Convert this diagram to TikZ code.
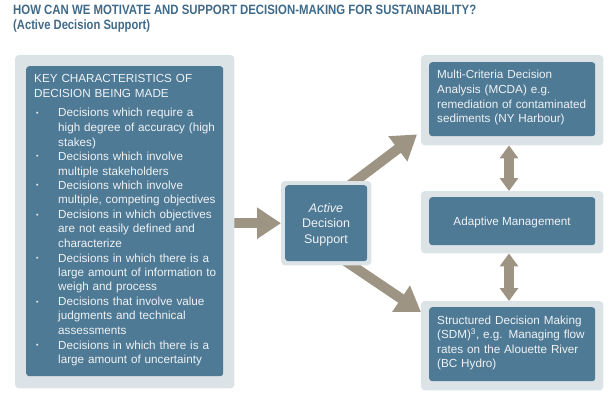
\documentclass[tikz,border=0pt]{standalone}
\usepackage{fontspec}
\usepackage{graphicx}
\setmainfont{Liberation Sans}
\usetikzlibrary{arrows.meta,calc}
\definecolor{outerc}{HTML}{DCE3E6}
\definecolor{innerc}{HTML}{4F7A95}
\definecolor{arrowc}{HTML}{9E9484}
\definecolor{titlec}{HTML}{3F6A8A}
\definecolor{textc}{HTML}{EEF2F4}
\newcommand\itemmark{\makebox[24pt][l]{\hspace{2pt}\raisebox{1.5pt}{\fontsize{7pt}{7pt}\selectfont •}}}
\newcommand\itemind{\hspace*{24pt}}
\begin{document}
\begin{tikzpicture}[x=1pt,y=-1pt,
  outerbox/.style={fill=outerc, rounded corners=4pt, inner sep=0pt, anchor=north west},
  innerbox/.style={fill=innerc, rounded corners=3pt, inner sep=0pt, anchor=north west},
  bigarrow/.style={draw=arrowc, line width=10pt, -{Triangle[width=30pt,length=24pt]}},
  duoarrow/.style={draw=arrowc, line width=10pt, {Triangle[width=18pt,length=13pt]}-{Triangle[width=18pt,length=13pt]}},
  boxtext/.style={text=textc, inner sep=0pt, align=left, font=\fontsize{11.7pt}{14.5pt}\selectfont},
  titletext/.style={text=titlec, inner sep=0pt, anchor=base west, font=\bfseries\fontsize{13.5pt}{16pt}\selectfont}
]
\useasboundingbox (0,0) rectangle (616,404);

% title
\node[titletext] (title) at (13,15) {\resizebox{463pt}{\height}{HOW CAN WE MOTIVATE AND SUPPORT DECISION-MAKING FOR SUSTAINABILITY?}};
\node[titletext] (subtitle) at (13,29.5) {\resizebox{137pt}{\height}{(Active Decision Support)}};

% outer boxes (positions only)
\coordinate (lpos) at (15,55);
\coordinate (mpos) at (281,181);
\coordinate (tpos) at (421,55);
\coordinate (apos) at (421,191);
\coordinate (bpos) at (421,301);

% arrows first, boxes cover their tails
\node[outerbox, minimum width=219pt, minimum height=333pt, fill=none] (lout) at (lpos) {};
\node[outerbox, minimum width=90pt, minimum height=84pt, fill=none] (mout) at (mpos) {};
\node[outerbox, minimum width=182pt, minimum height=90pt, fill=none] (tout) at (tpos) {};
\node[outerbox, minimum width=182pt, minimum height=62pt, fill=none] (aout) at (apos) {};
\node[outerbox, minimum width=182pt, minimum height=89pt, fill=none] (bout) at (bpos) {};

\coordinate (ax) at (509,0);
\draw[bigarrow] (lout.east |- mout.west) -- (mout.west);
\draw[bigarrow] ($(mout.north east)+(-28,9)$) -- ($(tout.south west)+(-4,-11)$);
\draw[bigarrow] ($(mout.south east)+(-30,-7)$) -- ($(bout.north west)+(0,11)$);
\draw[duoarrow] (ax |- tout.south) -- (ax |- aout.north);
\draw[duoarrow] (ax |- aout.south) -- (ax |- bout.north);

% filled boxes
\fill[outerc, rounded corners=4pt] (lout.north west) rectangle (lout.south east);
\fill[outerc, rounded corners=4pt] (mout.north west) rectangle (mout.south east);
\fill[outerc, rounded corners=4pt] (tout.north west) rectangle (tout.south east);
\fill[outerc, rounded corners=4pt] (aout.north west) rectangle (aout.south east);
\fill[outerc, rounded corners=4pt] (bout.north west) rectangle (bout.south east);

\node[innerbox, minimum width=197pt, minimum height=310pt] (lin) at (26,66) {};
\node[innerbox, minimum width=82pt, minimum height=76pt] (min) at (285,185) {};
\node[innerbox, minimum width=166pt, minimum height=74pt] (tin) at (429,62) {};
\node[innerbox, minimum width=166pt, minimum height=48pt] (ain) at (429,197) {};
\node[innerbox, minimum width=166pt, minimum height=74pt] (bin) at (429,307) {};

% texts
\node[boxtext, anchor=base west, text width=200pt] (ltext) at (34,82) {KEY CHARACTERISTICS OF\\[1.5pt]
DECISION BEING MADE\\[4.5pt]
\itemmark Decisions which require a\\
\itemind high degree of accuracy (high\\
\itemind stakes)\\
\itemmark Decisions which involve\\
\itemind multiple stakeholders\\
\itemmark Decisions which involve\\
\itemind multiple, competing objectives\\
\itemmark Decisions in which objectives\\
\itemind are not easily defined and\\
\itemind characterize\\
\itemmark Decisions in which there is a\\
\itemind large amount of information to\\
\itemind weigh and process\\
\itemmark Decisions that involve value\\
\itemind judgments and technical\\
\itemind assessments\\
\itemmark Decisions in which there is a\\
\itemind large amount of uncertainty};

\node[boxtext, anchor=base, align=center, text width=80pt, font=\fontsize{12.5pt}{15.5pt}\selectfont] (mtext) at (326,212) {\textit{Active}\\Decision\\Support};

\node[boxtext, anchor=base west, text width=165pt] (ttext) at (437,79) {Multi-Criteria Decision\\
Analysis (MCDA) e.g.\\
remediation of contaminated\\
sediments (NY Harbour)};

\node[boxtext, anchor=base] (atext) at (512,225) {Adaptive Management};

\node[boxtext, anchor=base west, text width=165pt] (btext) at (437,324) {Structured Decision Making\\
(SDM)\textsuperscript{3}, e.g. Managing flow\\
rates on the Alouette River\\
(BC Hydro)};
\end{tikzpicture}
\end{document}
